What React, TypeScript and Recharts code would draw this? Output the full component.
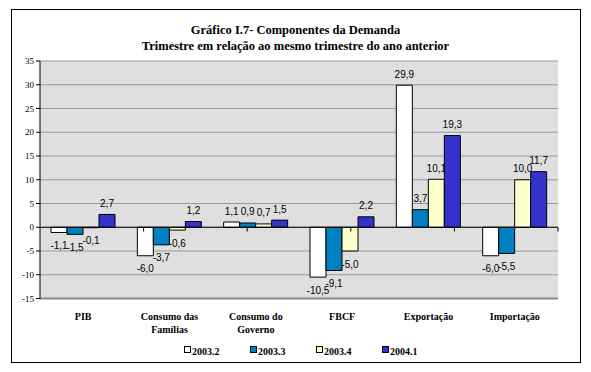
import { BarChart, Bar, XAxis, YAxis, CartesianGrid, ReferenceLine, LabelList } from "recharts";

const CATEGORIES = ["PIB", "Consumo das|Famílias", "Consumo do|Governo", "FBCF", "Exportação", "Importação"];
const S_2003_2 = [-1.1, -6.0, 1.1, -10.5, 29.9, -6.0];
const S_2003_3 = [-1.5, -3.7, 0.9, -9.1, 3.7, -5.5];
const S_2003_4 = [-0.1, -0.6, 0.7, -5.0, 10.1, 10.0];
const S_2004_1 = [2.7, 1.2, 1.5, 2.2, 19.3, 11.7];
const Y_TICKS = [-15, -10, -5, 0, 5, 10, 15, 20, 25, 30, 35];
const BOUNDARIES = [1, 2, 3, 4, 5, 6];

const SERIES = [
  { key: "s1", name: "2003.2", color: "#FFFFFF" },
  { key: "s2", name: "2003.3", color: "#0080C0" },
  { key: "s3", name: "2003.4", color: "#FFFFCC" },
  { key: "s4", name: "2004.1", color: "#3333CC" },
];

const data = CATEGORIES.map((c, i) => ({
  cat: c,
  s1: S_2003_2[i],
  s2: S_2003_3[i],
  s3: S_2003_4[i],
  s4: S_2004_1[i],
}));

const serif = "'Liberation Serif', 'Times New Roman', serif";
const sans = "'Liberation Sans', Arial, sans-serif";

function fmt(v: number) {
  return v.toFixed(1).replace(".", ",");
}

function BarLabel(props: any) {
  const { x, y, width, height, value } = props;
  const top = Math.min(y, y + height);
  const bottom = Math.max(y, y + height);
  const ty = value >= 0 ? top - 11 : bottom + 13;
  return (
    <text x={x + width / 2} y={ty} textAnchor="middle" dominantBaseline="central" fontSize={10} fontFamily={sans} fill="#000">
      {fmt(value)}
    </text>
  );
}

function CatTick(props: any) {
  const { x, y, payload } = props;
  const lines = String(payload.value).split("|");
  return (
    <g>
      {lines.map((l, i) => (
        <text key={i} x={x} y={y + 13 + i * 13} textAnchor="middle" fontSize={10} fontWeight="bold" fontFamily={serif} fill="#000">
          {l}
        </text>
      ))}
    </g>
  );
}

export default function App() {
  return (
    <div style={{ position: "absolute", left: 0, top: 0, width: 591, height: 372, background: "#fff" }}>
      <div style={{ position: "absolute", left: 11, top: 9, width: 568, height: 352, border: "1.5px solid #000" }} />
      <div style={{ position: "absolute", left: 0, top: 22, width: 591, textAlign: "center", fontFamily: serif, fontWeight: "bold", fontSize: 12.5, lineHeight: "16px", color: "#000" }}>
        <div>Gráfico I.7- Componentes da Demanda</div>
        <div>Trimestre em relação ao mesmo trimestre do ano anterior</div>
      </div>
      <div style={{ position: "absolute", left: 0, top: 0 }}>
        <BarChart
          width={591}
          height={372}
          data={data}
          margin={{ top: 61, right: 33, bottom: 33.5, left: 0 }}
          barSize={16}
          barGap={0}
        >
          <CartesianGrid vertical={false} stroke="#999" fill="#DFDFDF" />
          <XAxis dataKey="cat" height={40} axisLine={{ stroke: "#888", strokeWidth: 2 }} tickLine={false} tick={<CatTick />} interval={0} />
          <XAxis xAxisId="n" type="number" domain={[0, 6]} hide />
          <YAxis
            domain={[-15, 35]}
            ticks={Y_TICKS}
            width={40}
            interval={0}
            axisLine={{ stroke: "#000" }}
            tickLine={{ stroke: "#000" }}
            tickSize={4}
            tick={{ fontSize: 9, fontFamily: serif, fill: "#000" }}
          />
          <YAxis yAxisId="r" orientation="right" width={0} tick={false} axisLine={{ stroke: "#888", strokeWidth: 2 }} tickLine={false} domain={[-15, 35]} />
          <ReferenceLine y={0} stroke="#000" strokeWidth={1} />
          {BOUNDARIES.map((b) => (
            <ReferenceLine
              key={b}
              xAxisId="n"
              segment={[{ x: b, y: 0 }, { x: b, y: -0.9 }]}
              stroke="#000"
            />
          ))}
          {SERIES.map((s) => (
            <Bar key={s.key} dataKey={s.key} name={s.name} fill={s.color} stroke="#000" strokeWidth={1} isAnimationActive={false}>
              <LabelList dataKey={s.key} content={<BarLabel />} />
            </Bar>
          ))}
        </BarChart>
      </div>
      <div style={{ position: "absolute", top: 343, left: 0, width: 591, height: 14 }}>
        {SERIES.map((s, i) => (
          <div key={s.key} style={{ position: "absolute", left: 184 + i * 66, top: 0, display: "flex", alignItems: "flex-start" }}>
            <div style={{ width: 5, height: 5, marginTop: 3, border: "1px solid #000", background: s.color }} />
            <span style={{ fontFamily: serif, fontWeight: "bold", fontSize: 10, lineHeight: "14px", marginLeft: 1, paddingTop: 2, color: "#000" }}>{s.name}</span>
          </div>
        ))}
      </div>
    </div>
  );
}
